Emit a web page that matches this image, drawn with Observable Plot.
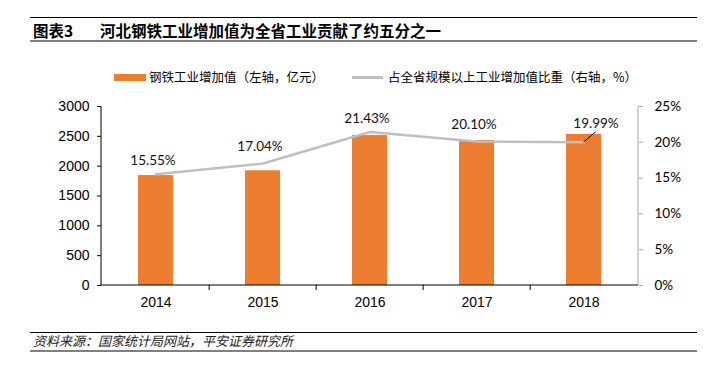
<!DOCTYPE html>
<html><head><meta charset="utf-8">
<script src="https://cdn.jsdelivr.net/npm/d3@7"></script>
<script src="https://cdn.jsdelivr.net/npm/@observablehq/plot@0.6"></script>
<style>
body{margin:0;background:#fff;}
#wrap{position:relative;width:718px;height:373px;overflow:hidden;font-family:"Noto Sans CJK SC",sans-serif;color:#000;}
.rule{position:absolute;left:30px;width:667px;}
.txt{position:absolute;white-space:nowrap;line-height:20px;}
.sw{position:absolute;}
#chart{position:absolute;left:0;top:0;}
</style></head><body>
<div id="wrap">
  <div id="chart"></div>
  <div class="rule" style="top:17px;height:1px;background:#000"></div>
  <div class="txt" id="figno" style="left:33px;top:20px;font-size:15.5px;font-weight:700"></div>
  <div class="txt" id="title" style="left:100px;top:20px;font-size:15.5px;font-weight:600"></div>
  <div class="rule" style="top:40px;height:2px;background:#808080"></div>
  <div class="sw" style="left:114px;top:74px;width:32px;height:7px;background:#ED7D31"></div>
  <div class="txt" id="leg1" style="left:149px;top:67px;font-size:12.5px"></div>
  <div class="sw" style="left:352px;top:76px;width:31px;height:2.5px;background:#BFBFBF"></div>
  <div class="txt" id="leg2" style="left:388px;top:67px;font-size:12.5px"></div>
  <div class="rule" style="top:332px;height:1px;background:#000"></div>
  <div class="txt" id="source" style="left:33px;top:331px;font-size:13px;font-style:italic;color:#222"></div>
  <div class="rule" style="top:350px;height:2px;background:#808080"></div>
</div>
<script>
// ---- data ----
const years = ["2014", "2015", "2016", "2017", "2018"];
const steelValue = [1842, 1922, 2513, 2430, 2531];      // 亿元 (left axis)
const sharePct = [15.55, 17.04, 21.43, 20.10, 19.99];   // % (right axis)
const leftTicks = [0, 500, 1000, 1500, 2000, 2500, 3000];
const rightTicks = [0, 5, 10, 15, 20, 25];
const figNo = "图表3";
const titleText = "河北钢铁工业增加值为全省工业贡献了约五分之一";
const legendBar = "钢铁工业增加值（左轴，亿元）";
const legendLine = "占全省规模以上工业增加值比重（右轴，%）";
const sourceText = "资料来源：国家统计局网站，平安证券研究所";

document.getElementById("figno").textContent = figNo;
document.getElementById("title").textContent = titleText;
document.getElementById("leg1").textContent = legendBar;
document.getElementById("leg2").textContent = legendLine;
document.getElementById("source").textContent = sourceText;

const leftMax = leftTicks[leftTicks.length - 1];
const rightMax = rightTicks[rightTicks.length - 1];
const k = leftMax / rightMax; // map % onto left scale
const data = years.map((y, i) => ({year: y, value: steelValue[i], pct: sharePct[i]}));
const pInner = 0.67;

function axisLines(index, scales, values, dims) {
  const {width, height, marginLeft, marginRight, marginTop, marginBottom} = dims;
  const x0 = marginLeft, x1 = width - marginRight, yT = marginTop, yB = height - marginBottom;
  const x = scales.x;
  const step = x(years[1]) - x(years[0]);
  const bw = step * (1 - pInner);
  const g = d3.create("svg:g");
  g.append("line").attr("x1", x1).attr("x2", x1).attr("y1", yT).attr("y2", yB).attr("stroke", "#A6A6A6");
  g.append("line").attr("x1", x0).attr("x2", x0).attr("y1", yT).attr("y2", yB).attr("stroke", "#000");
  g.append("line").attr("x1", x0).attr("x2", x1).attr("y1", yB).attr("y2", yB).attr("stroke", "#000");
  for (let i = 1; i < years.length; i++) {
    const bx = (x(years[i - 1]) + x(years[i])) / 2 + bw / 2;
    g.append("line").attr("x1", bx).attr("x2", bx).attr("y1", yB).attr("y2", yB + 5).attr("stroke", "#000");
  }
  // leader line for last label
  const last = data[data.length - 1];
  const px = x(last.year) + bw / 2, py = scales.y(last.pct * k);
  g.append("line").attr("x1", px).attr("y1", py).attr("x2", px + 12).attr("y2", py - 10).attr("stroke", "#000");
  return g.node();
}

const lblFont = {fontFamily: "Lato, 'Open Sans', sans-serif", fontSize: 13.5, fill: "#111"};
const fmt = d => d.pct.toFixed(2) + "%";

const chart = Plot.plot({
  width: 718, height: 373,
  marginTop: 106, marginBottom: 88, marginLeft: 101, marginRight: 80,
  style: {fontFamily: "'Liberation Sans', Arial, sans-serif", fontSize: "14px", color: "#000", background: "transparent", overflow: "visible"},
  x: {type: "band", domain: years, paddingInner: pInner, paddingOuter: pInner / 2, align: 0.5, label: null},
  y: {domain: [0, leftMax], label: null},
  marks: [
    Plot.barY(data, {x: "year", y: "value", fill: "#ED7D31"}),
    Plot.line(data, {x: "year", y: d => d.pct * k, stroke: "#BFBFBF", strokeWidth: 2.5}),
    axisLines,
    Plot.axisY({ticks: leftTicks, tickFormat: d => String(d), tickSize: 4, tickPadding: 8, label: null}),
    Plot.axisY({anchor: "right", ticks: rightTicks.map(t => t * k), tickFormat: d => `${Math.round(d / k)}%`,
      tickSize: 4, tickPadding: 12, stroke: "#A6A6A6", fill: "#000", label: null,
      fontFamily: "Lato, 'Open Sans', sans-serif", fontSize: 13.5}),
    Plot.axisX({tickSize: 0, tickPadding: 12, label: null}),
    Plot.text(data.filter((d, i) => i === 0 || i === 2), {x: "year", y: d => d.pct * k, text: fmt, dx: -3, dy: -13, ...lblFont}),
    Plot.text(data.filter((d, i) => i === 1 || i === 3), {x: "year", y: d => d.pct * k, text: fmt, dx: -3, dy: -17, ...lblFont}),
    Plot.text(data.filter((d, i) => i === data.length - 1), {x: "year", y: d => d.pct * k, text: fmt, dx: 12, dy: -19, ...lblFont})
  ]
});
document.getElementById("chart").appendChild(chart);
</script>
</body></html>
